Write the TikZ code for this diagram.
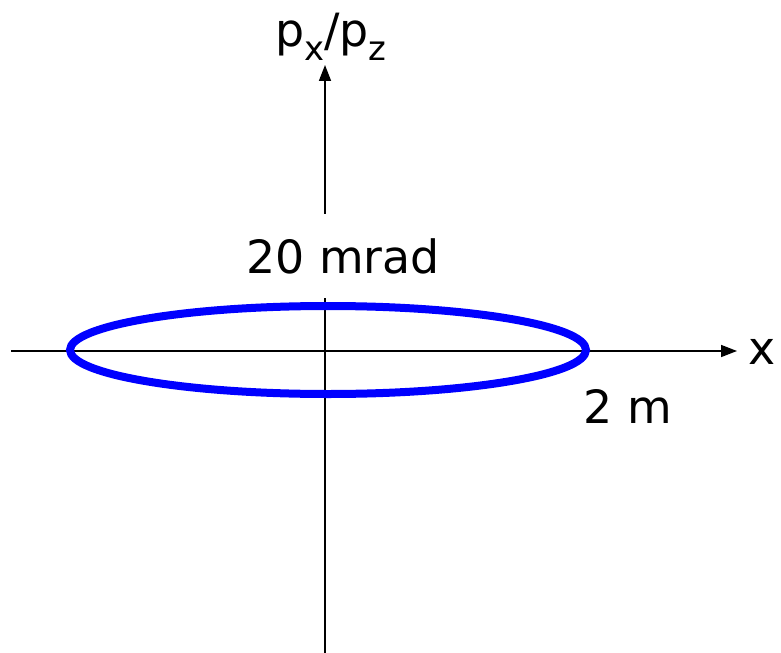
\documentclass[tikz,border=0pt]{standalone}
\usepackage{fontspec}
\setmainfont{DejaVu Sans}
\usetikzlibrary{arrows.meta}
\definecolor{orbitblue}{HTML}{0000FF}
\newcommand{\lowsub}[1]{\raisebox{-14bp}{\fontsize{34}{38}\selectfont #1}}
\tikzset{
  axisline/.style={-{Triangle[length=16bp,width=12bp]},line width=1.6bp,black},
  orbit/.style={line width=8bp,orbitblue},
  biglabel/.style={font=\fontsize{46}{50}\selectfont,inner sep=0pt}
}

\begin{document}
\begin{tikzpicture}[x=1bp,y=-1bp]
  \useasboundingbox (0,0) rectangle (781,653);
  % axes
  \coordinate (origin) at (328,350);
  \coordinate (xstart) at (11,351);
  \coordinate (xend) at (737,351);
  \coordinate (ybottom) at (325,653);
  \coordinate (ytop) at (325,65);
  \draw[axisline] (ybottom) -- (ytop);
  \draw[axisline] (xstart) -- (xend);
  % phase space ellipse
  \draw[orbit] (origin) ellipse [x radius=258, y radius=44];
  % labels
  \node[biglabel,anchor=base] (ylabel) at (331,47) {p\lowsub{x}/p\lowsub{z}};
  \node[biglabel,anchor=base,fill=white,inner ysep=24bp,inner xsep=2bp] (angle) at (343,273) {20 mrad};
  \node[biglabel,anchor=base] (size) at (628,423) {2 m};
  \node[biglabel,anchor=base] (xlabel) at (762,364) {x};
\end{tikzpicture}
\end{document}
